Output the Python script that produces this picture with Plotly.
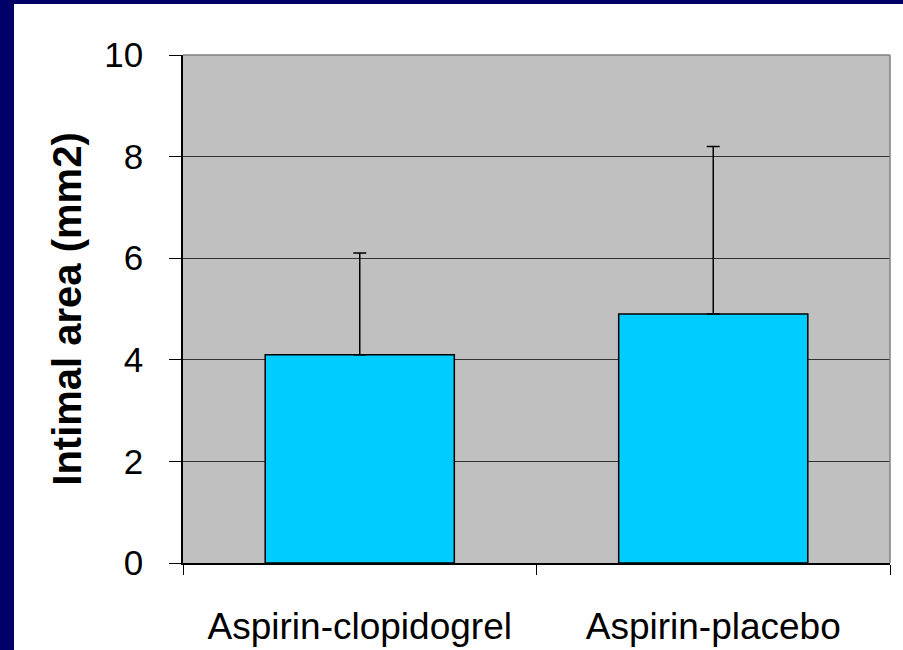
import plotly.graph_objects as go

categories = ["Aspirin-clopidogrel", "Aspirin-placebo"]
intimal_area = [4.1, 4.9]
error_plus = [2.0, 3.3]
error_minus = [0, 0]
y_ticks = [0, 2, 4, 6, 8, 10]

W, H = 903, 650
L, R, T, B = 183, 13, 55, 87
pw, ph = W - L - R, H - T - B

def px_x(p):
    return (p - L) / pw

def px_y(p):
    return (H - B - p) / ph

navy = "#000066"

fig = go.Figure(go.Bar(
    x=categories,
    y=intimal_area,
    marker=dict(color="#00CCFF", line=dict(color="black", width=1.5)),
    error_y=dict(type="data", symmetric=False, array=error_plus, arrayminus=error_minus,
                 color="black", thickness=1.5, width=6.5),
))

fig.update_layout(
    width=W, height=H,
    margin=dict(l=L, r=R, t=T, b=B, pad=0, autoexpand=False),
    paper_bgcolor="white",
    plot_bgcolor="#C0C0C0",
    bargap=0.465,
    showlegend=False,
    font=dict(family="Liberation Sans, Arial, sans-serif", color="black"),
    xaxis=dict(
        type="category", showgrid=False, showline=True, linecolor="black", linewidth=1.5,
        ticks="outside", tickson="boundaries", ticklen=10, tickcolor="black", tickwidth=1,
        tickfont=dict(size=37), ticklabelstandoff=30, automargin=False,
    ),
    yaxis=dict(
        range=[0, 10], tickvals=y_ticks, showgrid=True, gridcolor="#333333", gridwidth=1,
        showline=True, linecolor="black", linewidth=1.5, zeroline=False,
        ticks="outside", ticklen=12, tickcolor="black", tickwidth=1,
        tickfont=dict(size=35), ticklabelstandoff=19, automargin=False,
        title=dict(text="<b>Intimal area (mm2)</b>", font=dict(size=40), standoff=10),
    ),
    shapes=[
        dict(type="line", xref="paper", yref="paper", x0=0, x1=1, y0=1, y1=1,
             line=dict(color="#808080", width=1.5), layer="above"),
        dict(type="line", xref="paper", yref="paper", x0=1, x1=1, y0=0, y1=1,
             line=dict(color="#808080", width=1.5), layer="above"),
        dict(type="rect", xref="paper", yref="paper", x0=px_x(0), x1=px_x(14), y0=px_y(H), y1=px_y(0),
             fillcolor=navy, line=dict(width=0), layer="above"),
        dict(type="rect", xref="paper", yref="paper", x0=px_x(0), x1=px_x(W), y0=px_y(4), y1=px_y(0),
             fillcolor=navy, line=dict(width=0), layer="above"),
    ],
)

fig.write_html("out.html", config={"displayModeBar": False},
               post_script="document.body.style.margin='0';document.body.style.padding='0';")
